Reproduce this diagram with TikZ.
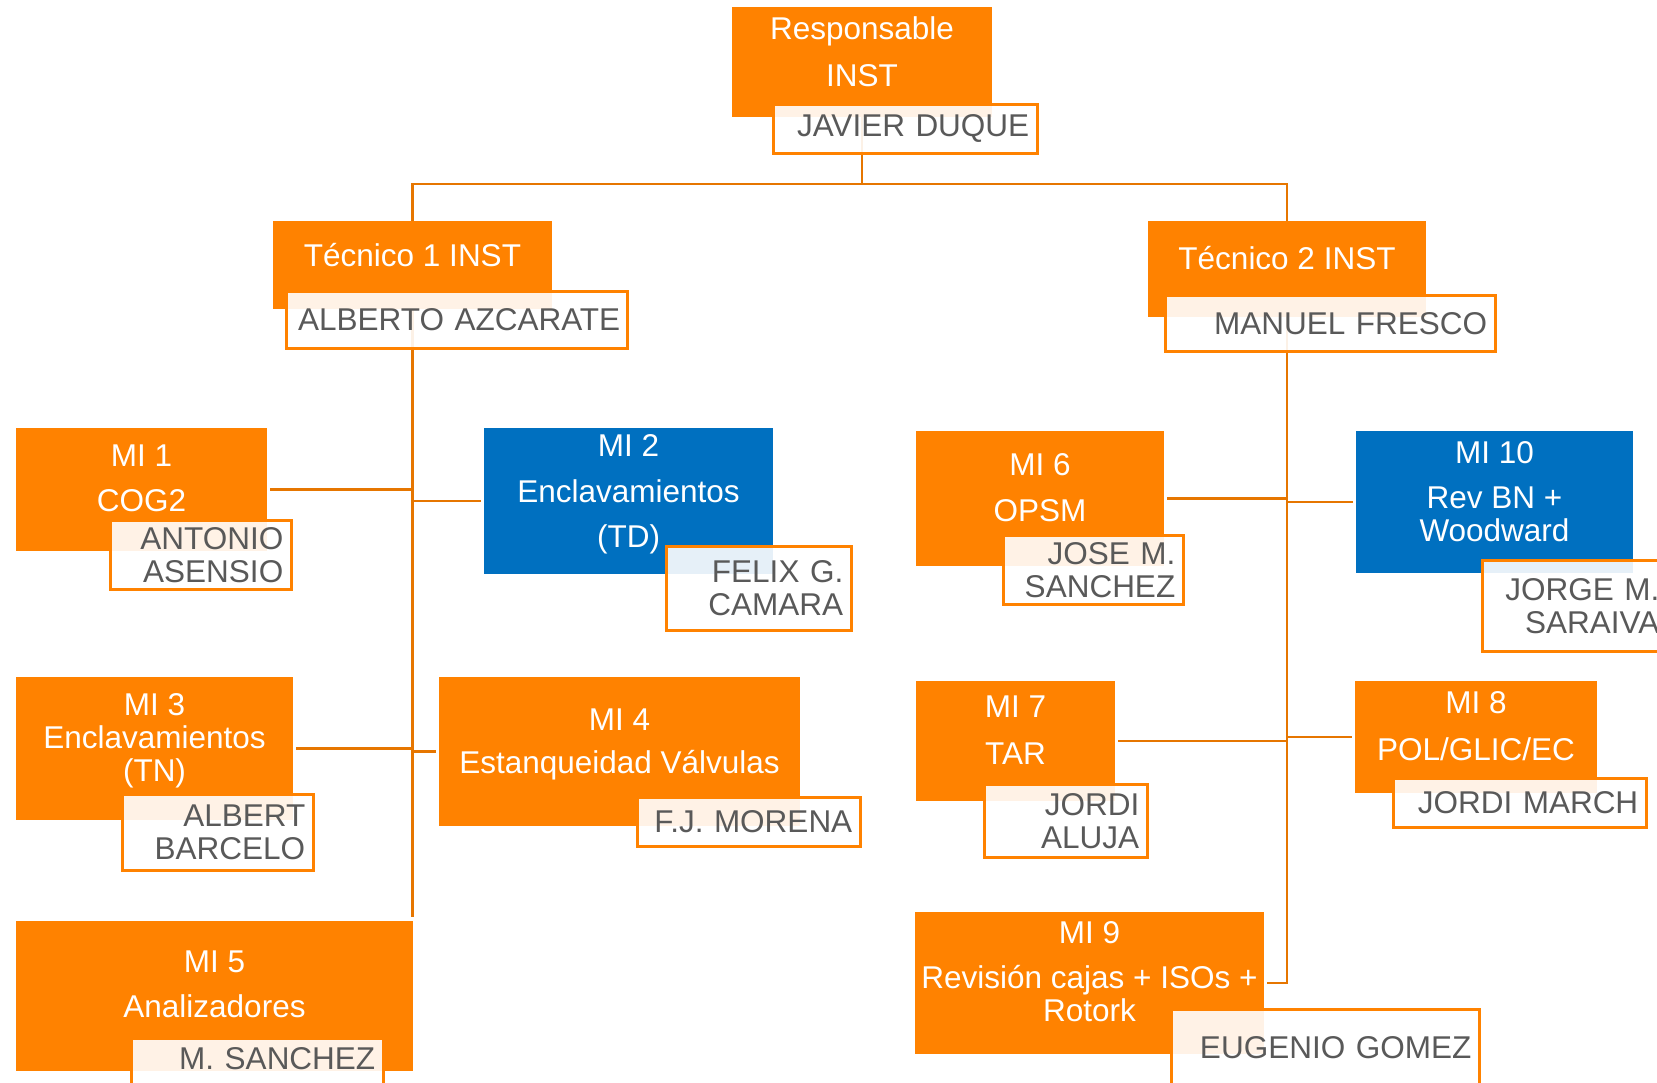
\documentclass[tikz,border=0pt]{standalone}
\usepackage{fontspec}
\setmainfont{Liberation Sans}
\usetikzlibrary{positioning}
\definecolor{orangeunit}{RGB}{255,130,0}
\definecolor{blueunit}{RGB}{0,112,192}
\definecolor{orangelink}{RGB}{230,118,0}
\definecolor{grayname}{RGB}{89,89,89}

\begin{document}
\begin{tikzpicture}[
    x=1pt, y=-1pt,
    font=\fontsize{31.5}{33}\selectfont,
    unit/.style={rectangle, fill=orangeunit, inner sep=0pt},
    unitb/.style={unit, fill=blueunit},
    unittext/.style={text=white, align=center, inner sep=0pt},
    person/.style={rectangle, draw=orangeunit, line width=2.5pt, fill=white,
        fill opacity=0.9, text opacity=1, text=grayname, align=right,
        inner xsep=8pt, inner ysep=0pt, anchor=north west},
    link/.style={draw=orangelink, line width=2.5pt},
 ]
    \useasboundingbox (0,0) rectangle (1657,1082);
    \fill[white] (0,0) rectangle (1657,1082);
    \clip (0,0) rectangle (1657,1082);

    % units
    \node[unit, minimum width=260pt, minimum height=110pt] (resp) at (862,62) {};
    \node[unit, minimum width=279pt, minimum height=88pt] (tec1) at (412.5,265) {};
    \node[unit, minimum width=278pt, minimum height=96pt] (tec2) at (1287,269) {};
    \node[unit, minimum width=251pt, minimum height=123pt] (mi1) at (141.5,489.5) {};
    \node[unitb, minimum width=289pt, minimum height=146pt] (mi2) at (628.5,501) {};
    \node[unit, minimum width=277pt, minimum height=143pt] (mi3) at (154.5,748.5) {};
    \node[unit, minimum width=361pt, minimum height=149pt] (mi4) at (619.5,751.5) {};
    \node[unit, minimum width=397pt, minimum height=150pt] (mi5) at (214.5,996) {};
    \node[unit, minimum width=248pt, minimum height=135pt] (mi6) at (1040,498.5) {};
    \node[unit, minimum width=199pt, minimum height=120pt] (mi7) at (1015.5,741) {};
    \node[unit, minimum width=242pt, minimum height=112pt] (mi8) at (1476,737) {};
    \node[unit, minimum width=349pt, minimum height=142pt] (mi9) at (1089.5,983) {};
    \node[unitb, minimum width=277pt, minimum height=142pt] (mi10) at (1494.5,502) {};

    \node[unittext, below=10pt of resp.north] (respt) {Responsable\\[14pt]INST};
    \node[unittext, below=22pt of tec1.north] (tec1t) {Técnico 1 INST};
    \node[unittext, below=25pt of tec2.north] (tec2t) {Técnico 2 INST};
    \node[unittext, below=17pt of mi1.north] (mi1t) {MI 1\\[12pt]COG2};
    \node[unittext, below=6pt of mi2.north] (mi2t) {MI 2\\[13pt]Enclavamientos\\[12pt](TD)};
    \node[unittext, below=16pt of mi3.north] (mi3t) {MI 3\\Enclavamientos\\(TN)};
    \node[unittext, below=32pt of mi4.north] (mi4t) {MI 4\\[10pt]Estanqueidad Válvulas};
    \node[unittext, below=30pt of mi5.north] (mi5t) {MI 5\\[12pt]Analizadores};
    \node[unittext, below=22pt of mi6.north] (mi6t) {MI 6\\[13pt]OPSM};
    \node[unittext, below=15pt of mi7.north] (mi7t) {MI 7\\[14pt]TAR};
    \node[unittext, below=10pt of mi8.north] (mi8t) {MI 8\\[14pt]POL/GLIC/EC};
    \node[unittext, below=9pt of mi9.north] (mi9t) {MI 9\\[12pt]Revisión cajas + ISOs +\\Rotork};
    \node[unittext, below=10pt of mi10.north] (mi10t) {MI 10\\[12pt]Rev BN +\\Woodward};

    % links
    \coordinate (bus) at (862,184);
    \coordinate (lend) at (412.5,917);
    \draw[link] (resp.south) -- (bus);
    \draw[link] (tec1.north) |- (bus) -| (tec2.north);
    \draw[link] (tec1.south) -- (lend);
    \draw[link, shorten <=3pt] (mi1.east) -- (mi1.east -| tec1.south);
    \draw[link, shorten >=3pt] (mi2.west -| tec1.south) -- (mi2.west);
    \draw[link, shorten <=3pt] (mi3.east) -- (mi3.east -| tec1.south);
    \draw[link, shorten >=3pt] (mi4.west -| tec1.south) -- (mi4.west);
    \draw[link, shorten >=3pt] (tec2.south) |- (mi9.east);
    \draw[link, shorten <=3pt] (mi6.east) -- (mi6.east -| tec2.south);
    \draw[link, shorten >=3pt] (mi10.west -| tec2.south) -- (mi10.west);
    \draw[link, shorten <=3pt] (mi7.east) -- (mi7.east -| tec2.south);
    \draw[link, shorten >=3pt] (mi8.west -| tec2.south) -- (mi8.west);

    % names
    \node[person, text width=248pt, minimum height=49pt] (javier) at (772,103) {JAVIER DUQUE};
    \node[person, inner xsep=7pt, text width=327pt, minimum height=57pt] (alberto) at (285,290) {ALBERTO AZCARATE};
    \node[person, text width=314pt, minimum height=56pt] (manuel) at (1164,294) {MANUEL FRESCO};
    \node[person, text width=165pt, minimum height=69pt] (antonio) at (109,519) {ANTONIO\\ASENSIO};
    \node[person, text width=169pt, minimum height=84pt] (felix) at (665,545) {FELIX G.\\CAMARA};
    \node[person, text width=175pt, minimum height=76pt] (albert) at (121,793) {ALBERT\\BARCELO};
    \node[person, text width=207pt, minimum height=49pt] (morena) at (636,796) {F.J. MORENA};
    \node[person, text width=236pt, minimum height=80pt, text height=22pt, text depth=40pt] (msanchez) at (130,1037) {M. SANCHEZ};
    \node[person, text width=164pt, minimum height=69pt] (jose) at (1002,534) {JOSE M.\\SANCHEZ};
    \node[person, text width=169pt, minimum height=91pt] (jorge) at (1481,559) {JORGE M.\\SARAIVA};
    \node[person, text width=147pt, minimum height=73pt] (aluja) at (983,783) {JORDI\\ALUJA};
    \node[person, text width=237pt, minimum height=49pt] (march) at (1392,777) {JORDI MARCH};
    \node[person, text width=292pt, minimum height=120pt, text height=22pt, text depth=44pt] (eugenio) at (1170,1008) {EUGENIO GOMEZ};

\end{tikzpicture}
\end{document}
